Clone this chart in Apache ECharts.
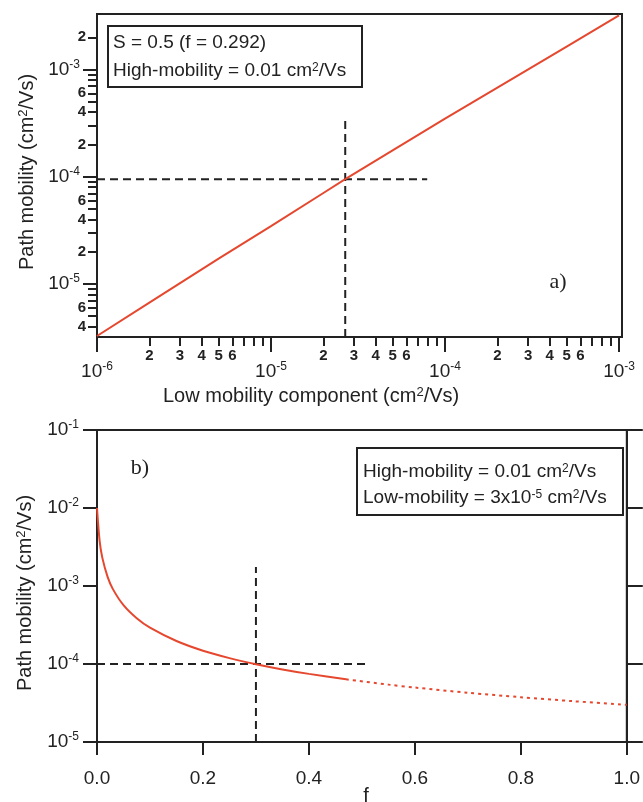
<!DOCTYPE html>
<html>
<head>
<meta charset="utf-8">
<script src="https://cdn.jsdelivr.net/npm/echarts@6/dist/echarts.min.js"></script>
<style>
html,body{margin:0;padding:0;background:#fff;}
#chart{width:643px;height:802px;}
</style>
</head>
<body>
<div id="chart"></div>
<script>
// ---------- Panel a) data ----------
const lowMobility = [1e-6, 2e-6, 5e-6, 1e-5, 2e-5, 2.67e-5, 5e-5, 1e-4, 2e-4, 5e-4, 1e-3];
const pathMobilityA = [3.27e-6, 6.7e-6, 1.72e-5, 3.47e-5, 7.06e-5, 9.5e-5, 1.76e-4, 3.48e-4, 6.8e-4, 1.64e-3, 3.2e-3];
const guideAH = [[1e-6, 9.5e-5], [7.9e-5, 9.5e-5]];
const guideAV = [[2.67e-5, 3.2e-6], [2.67e-5, 3.63e-4]];

// ---------- Panel b) data ----------
const fSolid = [0, 0.005, 0.01, 0.02, 0.03, 0.05, 0.075, 0.1, 0.15, 0.2, 0.25, 0.3, 0.35, 0.4, 0.47];
const pathSolid = [1.0e-2, 3.76e-3, 2.31e-3, 1.31e-3, 9.12e-4, 5.68e-4, 3.86e-4, 2.92e-4, 1.97e-4, 1.48e-4, 1.19e-4, 9.93e-5, 8.52e-5, 7.47e-5, 6.36e-5];
const fDotted = [0.47, 0.55, 0.6, 0.7, 0.8, 0.9, 1.0];
const pathDotted = [6.36e-5, 5.44e-5, 4.99e-5, 4.28e-5, 3.75e-5, 3.33e-5, 3.0e-5];
const guideBH = [[0, 1e-4], [0.51, 1e-4]];
const guideBV = [[0.3, 1e-5], [0.3, 1.75e-3]];

// ---------- Tick values ----------
const aXMajor = [1e-6, 1e-5, 1e-4, 1e-3];
const aXMinorTicks = [2e-6,3e-6,4e-6,5e-6,6e-6,7e-6,8e-6,9e-6, 2e-5,3e-5,4e-5,5e-5,6e-5,7e-5,8e-5,9e-5, 2e-4,3e-4,4e-4,5e-4,6e-4,7e-4,8e-4,9e-4];
const aXMinorLabels = [2e-6,3e-6,4e-6,5e-6,6e-6, 2e-5,3e-5,4e-5,5e-5,6e-5, 2e-4,3e-4,4e-4,5e-4,6e-4];
const aYMajor = [1e-5, 1e-4, 1e-3];
const aYMinorTicks = [4e-6,5e-6,6e-6,7e-6,8e-6,9e-6, 2e-5,3e-5,4e-5,5e-5,6e-5,7e-5,8e-5,9e-5, 2e-4,3e-4,4e-4,5e-4,6e-4,7e-4,8e-4,9e-4, 2e-3];
const aYMinorLabels = [4e-6,6e-6, 2e-5,4e-5,6e-5, 2e-4,4e-4,6e-4, 2e-3];
const bYMajor = [1e-5, 1e-4, 1e-3, 1e-2, 1e-1];
const bXTicks = [0, 0.2, 0.4, 0.6, 0.8, 1.0];

const FONT = 'Liberation Sans, Arial, sans-serif';
const SERIF = 'Liberation Serif, Times New Roman, serif';
const INK = '#222';
const RED = '#e5482f';

const powRich = {
  b: {fontSize: 19, fontFamily: FONT, color: INK, lineHeight: 22},
  s: {fontSize: 12, fontFamily: FONT, color: INK, verticalAlign: 'top', lineHeight: 12}
};
function powLabel(v) {
  const e = Math.round(Math.log10(v));
  return '{b|10}{s|' + e + '}';
}
function mantissa(v) {
  const e = Math.floor(Math.log10(v) + 1e-9);
  return String(Math.round(v / Math.pow(10, e)));
}

const chart = echarts.init(document.getElementById('chart'));
const lineAxis = {show: true, lineStyle: {color: INK, width: 2}};
const noAxisLine = {show: false};

chart.setOption({
  animation: false,
  backgroundColor: '#fff',
  grid: [
    {left: 97, top: 14, width: 525, height: 323, show: true, borderColor: INK, borderWidth: 2, backgroundColor: 'transparent'},
    {left: 97, top: 430, width: 530, height: 312, show: true, borderColor: INK, borderWidth: 2, backgroundColor: 'transparent'}
  ],
  xAxis: [
    {gridIndex: 0, type: 'log', logBase: 10, min: 1e-6, max: 1.04e-3, position: 'bottom',
     axisLine: lineAxis, splitLine: {show: false}, minorTick: {show: false},
     axisTick: {show: true, inside: false, length: 15, lineStyle: {color: INK, width: 2}, customValues: aXMajor},
     axisLabel: {show: true, customValues: aXMajor, margin: 24, formatter: powLabel, rich: powRich}},
    {gridIndex: 0, type: 'log', logBase: 10, min: 1e-6, max: 1.04e-3, position: 'bottom',
     axisLine: noAxisLine, splitLine: {show: false},
     axisTick: {show: true, inside: false, length: 9, lineStyle: {color: INK, width: 2}, customValues: aXMinorTicks},
     axisLabel: {show: true, customValues: aXMinorLabels, margin: 11, formatter: mantissa,
       fontSize: 15, fontWeight: 'bold', fontFamily: FONT, color: INK}},
    {gridIndex: 1, type: 'value', min: 0, max: 1, interval: 0.2, position: 'bottom',
     axisLine: lineAxis, splitLine: {show: false},
     axisTick: {show: true, inside: false, length: 13, lineStyle: {color: INK, width: 2}},
     axisLabel: {show: true, margin: 27, fontSize: 19, fontFamily: FONT, color: INK,
       formatter: v => v.toFixed(1)}}
  ],
  yAxis: [
    {gridIndex: 0, type: 'log', logBase: 10, min: 3.2e-6, max: 3.3e-3, position: 'left',
     axisLine: lineAxis, splitLine: {show: false},
     axisTick: {show: true, inside: false, length: 14, lineStyle: {color: INK, width: 2}, customValues: aYMajor},
     axisLabel: {show: true, customValues: aYMajor, margin: 17, formatter: powLabel, rich: powRich}},
    {gridIndex: 0, type: 'log', logBase: 10, min: 3.2e-6, max: 3.3e-3, position: 'left',
     axisLine: noAxisLine, splitLine: {show: false},
     axisTick: {show: true, inside: false, length: 9, lineStyle: {color: INK, width: 2}, customValues: aYMinorTicks},
     axisLabel: {show: true, customValues: aYMinorLabels, margin: 11, formatter: mantissa,
       fontSize: 15, fontWeight: 'bold', fontFamily: FONT, color: INK}},
    {gridIndex: 1, type: 'log', logBase: 10, min: 1e-5, max: 1e-1, position: 'left',
     axisLine: lineAxis, splitLine: {show: false},
     axisTick: {show: true, inside: false, length: 14, lineStyle: {color: INK, width: 2}, customValues: bYMajor},
     axisLabel: {show: true, customValues: bYMajor, margin: 18, formatter: powLabel, rich: powRich}},
    {gridIndex: 1, type: 'log', logBase: 10, min: 1e-5, max: 1e-1, position: 'right',
     axisLine: lineAxis, splitLine: {show: false},
     axisTick: {show: true, inside: false, length: 16, lineStyle: {color: INK, width: 2}, customValues: bYMajor},
     axisLabel: {show: false}}
  ],
  series: [
    {type: 'line', xAxisIndex: 0, yAxisIndex: 0, showSymbol: false, symbol: 'none',
     data: lowMobility.map((x, i) => [x, pathMobilityA[i]]),
     lineStyle: {color: RED, width: 2}, z: 3},
    {type: 'line', xAxisIndex: 0, yAxisIndex: 0, symbol: 'none', data: guideAH,
     lineStyle: {color: INK, width: 2, type: [8, 5]}, z: 2},
    {type: 'line', xAxisIndex: 0, yAxisIndex: 0, symbol: 'none', data: guideAV,
     lineStyle: {color: INK, width: 2, type: [8, 5]}, z: 2},
    {type: 'line', xAxisIndex: 2, yAxisIndex: 2, symbol: 'none', smooth: 0.3,
     data: fSolid.map((x, i) => [x, pathSolid[i]]),
     lineStyle: {color: RED, width: 2}, z: 3},
    {type: 'line', xAxisIndex: 2, yAxisIndex: 2, symbol: 'none', smooth: 0.3,
     data: fDotted.map((x, i) => [x, pathDotted[i]]),
     lineStyle: {color: RED, width: 2, type: [3, 4]}, z: 3},
    {type: 'line', xAxisIndex: 2, yAxisIndex: 2, symbol: 'none', data: guideBH,
     lineStyle: {color: INK, width: 2, type: [8, 5]}, z: 2},
    {type: 'line', xAxisIndex: 2, yAxisIndex: 2, symbol: 'none', data: guideBV,
     lineStyle: {color: INK, width: 2, type: [8, 5]}, z: 2}
  ],
  graphic: [
    // axis titles
    {type: 'text', left: 163, top: 386, z: 10,
     style: {text: 'Low mobility component (cm{s|2}/Vs)', font: '20px ' + FONT, fill: INK,
       rich: {s: {fontSize: 13, fontFamily: FONT, fill: INK, verticalAlign: 'top'}}}},
    {type: 'text', x: 27, y: 172, rotation: Math.PI / 2, z: 10,
     style: {text: 'Path mobility (cm{s|2}/Vs)', font: '20px ' + FONT, fill: INK, align: 'center', verticalAlign: 'middle',
       rich: {s: {fontSize: 13, fontFamily: FONT, fill: INK, verticalAlign: 'top'}}}},
    {type: 'text', x: 25, y: 593, rotation: Math.PI / 2, z: 10,
     style: {text: 'Path mobility (cm{s|2}/Vs)', font: '20px ' + FONT, fill: INK, align: 'center', verticalAlign: 'middle',
       rich: {s: {fontSize: 13, fontFamily: FONT, fill: INK, verticalAlign: 'top'}}}},
    {type: 'text', x: 366, y: 786, z: 10,
     style: {text: 'f', font: '20px ' + FONT, fill: INK, align: 'center', verticalAlign: 'top'}},
    // panel labels
    {type: 'text', x: 558, y: 282, z: 10,
     style: {text: 'a)', font: '22px ' + SERIF, fill: INK, align: 'center', verticalAlign: 'middle'}},
    {type: 'text', x: 140, y: 468, z: 10,
     style: {text: 'b)', font: '22px ' + SERIF, fill: INK, align: 'center', verticalAlign: 'middle'}},
    // annotation box a
    {type: 'rect', shape: {x: 108, y: 26, width: 254, height: 61}, z: 9,
     style: {fill: '#fff', stroke: INK, lineWidth: 2}},
    {type: 'text', x: 113, y: 43, z: 10,
     style: {text: 'S = 0.5 (f = 0.292)', font: '19px ' + FONT, fill: INK, verticalAlign: 'middle'}},
    {type: 'text', x: 113, y: 71, z: 10,
     style: {text: 'High-mobility = 0.01 cm{s|2}/Vs', font: '19px ' + FONT, fill: INK, verticalAlign: 'middle',
       rich: {s: {fontSize: 12, fontFamily: FONT, fill: INK, verticalAlign: 'top'}}}},
    // annotation box b
    {type: 'rect', shape: {x: 357, y: 448, width: 266, height: 67}, z: 9,
     style: {fill: '#fff', stroke: INK, lineWidth: 2}},
    {type: 'text', x: 363, y: 472, z: 10,
     style: {text: 'High-mobility = 0.01 cm{s|2}/Vs', font: '19px ' + FONT, fill: INK, verticalAlign: 'middle',
       rich: {s: {fontSize: 12, fontFamily: FONT, fill: INK, verticalAlign: 'top'}}}},
    {type: 'text', x: 363, y: 498, z: 10,
     style: {text: 'Low-mobility = 3x10{s|-5} cm{s|2}/Vs', font: '19px ' + FONT, fill: INK, verticalAlign: 'middle',
       rich: {s: {fontSize: 12, fontFamily: FONT, fill: INK, verticalAlign: 'top'}}}}
  ]
});
</script>
</body>
</html>
